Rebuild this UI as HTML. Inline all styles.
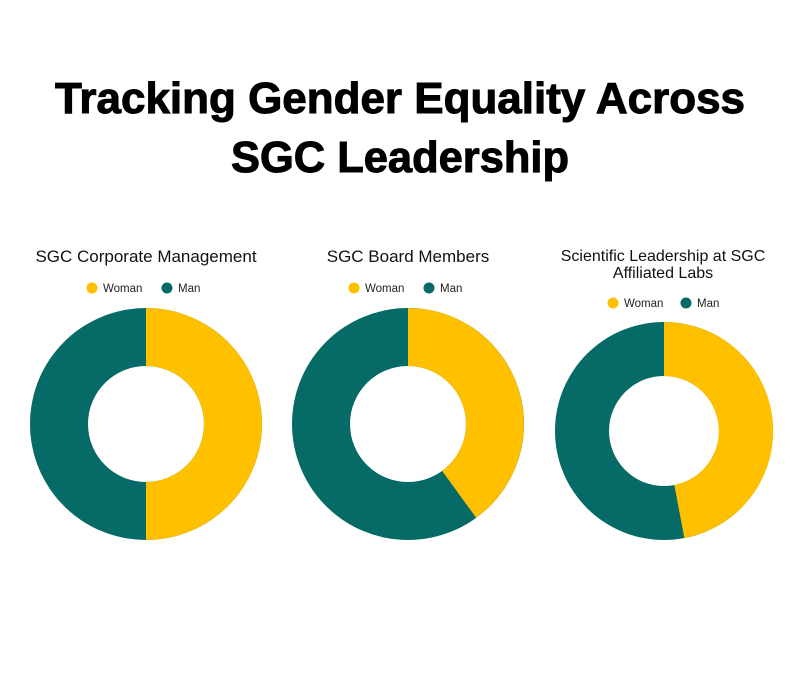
<!DOCTYPE html>
<html><head><meta charset="utf-8"><style>
html,body{margin:0;padding:0;background:#fff;}
svg{display:block;font-family:"Liberation Sans",Arial,sans-serif;}
</style></head><body>
<svg width="800" height="680" viewBox="0 0 800 680">
<rect width="800" height="680" fill="#fff"/>
<text x="400" y="113" text-anchor="middle" font-size="44" font-weight="bold" fill="#000" stroke="#000" stroke-width="1" textLength="690" lengthAdjust="spacingAndGlyphs">Tracking Gender Equality Across</text>
<text x="400" y="172" text-anchor="middle" font-size="44" font-weight="bold" fill="#000" stroke="#000" stroke-width="1" textLength="338" lengthAdjust="spacingAndGlyphs">SGC Leadership</text>

<!-- chart 1 -->
<text x="146" y="262" text-anchor="middle" font-size="17" fill="#111">SGC Corporate Management</text>
<circle cx="92" cy="288" r="5.5" fill="#FFC000"/><text x="103" y="292" font-size="11.5" fill="#222">Woman</text>
<circle cx="167" cy="288" r="5.5" fill="#066A67"/><text x="178" y="292" font-size="11.5" fill="#222">Man</text>
<path d="M146,308 A116,116 0 1 1 146,540 A116,116 0 1 1 146,308 Z M146,366 A58,58 0 1 0 146,482 A58,58 0 1 0 146,366 Z" fill="#066A67" fill-rule="evenodd"/>
<path d="M146,308 A116,116 0 0 1 146,540 L146,482 A58,58 0 0 0 146,366 Z" fill="#FFC000"/>

<!-- chart 2 -->
<text x="408" y="262" text-anchor="middle" font-size="17" fill="#111">SGC Board Members</text>
<circle cx="354" cy="288" r="5.5" fill="#FFC000"/><text x="365" y="292" font-size="11.5" fill="#222">Woman</text>
<circle cx="429" cy="288" r="5.5" fill="#066A67"/><text x="440" y="292" font-size="11.5" fill="#222">Man</text>
<path d="M408,308 A116,116 0 1 1 408,540 A116,116 0 1 1 408,308 Z M408,366 A58,58 0 1 0 408,482 A58,58 0 1 0 408,366 Z" fill="#066A67" fill-rule="evenodd"/>
<path d="M408,308 A116,116 0 0 1 476.2,517.8 L442.1,470.9 A58,58 0 0 0 408,366 Z" fill="#FFC000"/>

<!-- chart 3 -->
<text x="663" y="261" text-anchor="middle" font-size="16" fill="#111">Scientific Leadership at SGC</text>
<text x="663" y="278" text-anchor="middle" font-size="16" fill="#111">Affiliated Labs</text>
<circle cx="613" cy="303" r="5.5" fill="#FFC000"/><text x="624" y="307" font-size="11.5" fill="#222">Woman</text>
<circle cx="686" cy="303" r="5.5" fill="#066A67"/><text x="697" y="307" font-size="11.5" fill="#222">Man</text>
<path d="M664,322 A109,109 0 1 1 664,540 A109,109 0 1 1 664,322 Z M664,376 A55,55 0 1 0 664,486 A55,55 0 1 0 664,376 Z" fill="#066A67" fill-rule="evenodd"/>
<path d="M664,322 A109,109 0 0 1 684.4,538.1 L674.3,485 A55,55 0 0 0 664,376 Z" fill="#FFC000"/>
</svg>
</body></html>
